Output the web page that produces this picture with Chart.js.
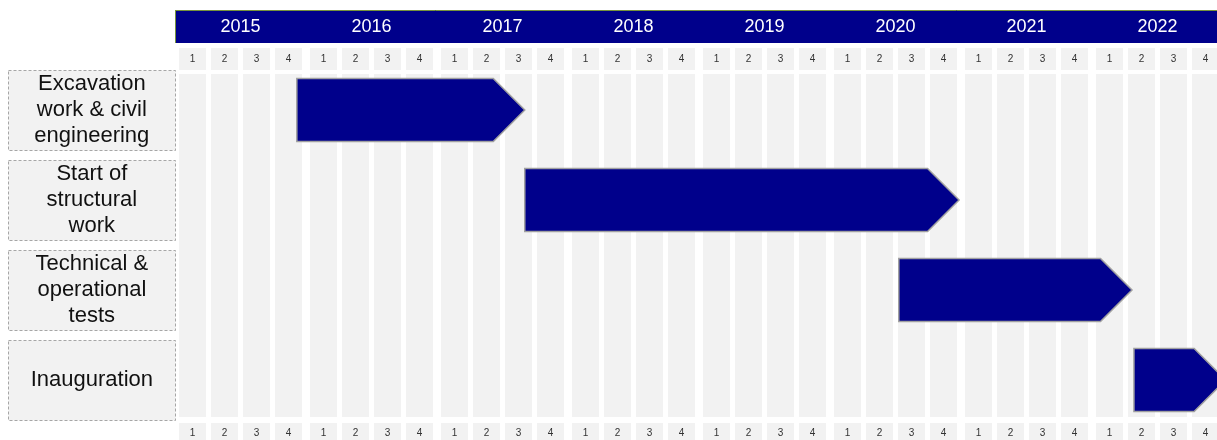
<!DOCTYPE html>
<html><head><meta charset="utf-8">
<script src="https://cdn.jsdelivr.net/npm/chart.js@4/dist/chart.umd.min.js"></script>
<style>html,body{margin:0;padding:0;background:#fff;overflow:hidden}canvas{display:block}</style>
</head><body>
<canvas id="c" width="1217" height="440"></canvas>
<script>
// ---- data ----
const tasks = [
  ['Excavation', 'work & civil', 'engineering'],
  ['Start of', 'structural', 'work'],
  ['Technical &', 'operational', 'tests'],
  ['Inauguration']
];
const taskStart = [2015.93, 2017.67, 2020.525, 2022.32];
const taskEnd   = [2017.67, 2020.985, 2022.305, 2023.02];
const years = [2015, 2016, 2017, 2018, 2019, 2020, 2021, 2022];
const quarterLabels = ['1', '2', '3', '4'];

// ---- layout / style constants ----
const X_MIN = 2015, X_MAX = 2022.954;
const Q_PITCH = 32 / 131;
const FAMILY = '"Liberation Sans", Arial, sans-serif';
const BLUE = '#00008b';
const CELL = '#f2f2f2';

const quarterTicks = years.flatMap(y => quarterLabels.map((_, i) => y + 0.5 + (i - 1.5) * Q_PITCH));
const yearTicks = years.map(y => y + 0.5);

const bg = {
  id: 'bg',
  beforeDraw(chart) {
    const { ctx, chartArea: a, scales } = chart;
    const x = scales.x, y = scales.y;
    ctx.save();
    ctx.fillStyle = '#fff';
    ctx.fillRect(0, 0, chart.width, chart.height);
    // header band
    ctx.fillStyle = BLUE;
    ctx.fillRect(a.left, 10, chart.width - a.left, 33);
    ctx.strokeStyle = '#77933c';
    ctx.lineWidth = 1;
    ctx.beginPath();
    ctx.moveTo(a.left, 10.5); ctx.lineTo(chart.width, 10.5);
    ctx.moveTo(a.left + 0.5, 10); ctx.lineTo(a.left + 0.5, 43);
    ctx.stroke();
    // quarter columns and label cells
    ctx.fillStyle = CELL;
    quarterTicks.forEach(v => {
      const l = Math.round(x.getPixelForValue(v) - 13.5);
      ctx.fillRect(l, a.top + 9, 27, (a.bottom - 8) - (a.top + 9));
      ctx.fillRect(l, 48, 27, 22);
      ctx.fillRect(l, 423, 27, 17);
    });
    // row label boxes
    tasks.forEach((t, i) => {
      const cy = y.getPixelForValue(i);
      const top = Math.round(cy - 40) + 0.5;
      ctx.fillStyle = CELL;
      ctx.fillRect(8.5, top, 167, 80);
      ctx.setLineDash([3, 2]);
      ctx.strokeStyle = '#a6a6a6';
      ctx.lineWidth = 1;
      ctx.strokeRect(8.5, top, 167, 80);
    });
    ctx.restore();
  }
};

const arrows = {
  id: 'arrows',
  afterDatasetsDraw(chart) {
    const { ctx, chartArea: a } = chart;
    const meta = chart.getDatasetMeta(0);
    ctx.save();
    ctx.beginPath();
    ctx.rect(a.left, 0, a.right - a.left, chart.height);
    ctx.clip();
    meta.data.forEach(el => {
      const { x, base, y, height } = el.getProps(['x', 'base', 'y', 'height'], true);
      const h = height / 2;
      const x0 = Math.min(x, base), x1 = Math.max(x, base);
      ctx.beginPath();
      ctx.moveTo(x0, y - h);
      ctx.lineTo(x1 - h, y - h);
      ctx.lineTo(x1, y);
      ctx.lineTo(x1 - h, y + h);
      ctx.lineTo(x0, y + h);
      ctx.closePath();
      ctx.fillStyle = BLUE;
      ctx.fill();
      ctx.strokeStyle = '#a0a0a0';
      ctx.lineWidth = 1.5;
      ctx.stroke();
    });
    ctx.restore();
  }
};

const quarterAxis = (pos, pad, h, weight) => ({
  type: 'linear', position: pos, weight: weight, min: X_MIN, max: X_MAX,
  grid: { display: false, drawTicks: false }, border: { display: false },
  afterBuildTicks: s => { s.ticks = quarterTicks.map(v => ({ value: v })); },
  afterFit: s => { s.height = h; s.paddingLeft = 0; s.paddingRight = 0; },
  ticks: {
    autoSkip: false, maxRotation: 0, minRotation: 0, padding: pad,
    font: { size: 10, family: FAMILY }, color: '#333',
    callback: (v, i) => quarterLabels[i % 4]
  }
});

new Chart(document.getElementById('c'), {
  type: 'bar',
  data: {
    labels: tasks,
    datasets: [{
      data: taskStart.map((s, i) => [s, taskEnd[i]]),
      backgroundColor: 'rgba(0,0,0,0)',
      borderWidth: 0,
      barThickness: 63
    }]
  },
  options: {
    indexAxis: 'y',
    responsive: false,
    animation: false,
    devicePixelRatio: 1,
    layout: { padding: 0 },
    plugins: { legend: { display: false }, tooltip: { enabled: false } },
    scales: {
      x: quarterAxis('bottom', 2, 15, 0),
      xq: quarterAxis('top', 0, 22, 0),
      xy: {
        type: 'linear', position: 'top', weight: 1, min: X_MIN, max: X_MAX,
        grid: { display: false, drawTicks: false }, border: { display: false },
        afterBuildTicks: s => { s.ticks = yearTicks.map(v => ({ value: v })); },
        afterFit: s => { s.height = 43; s.paddingLeft = 0; s.paddingRight = 0; },
        ticks: {
          autoSkip: false, maxRotation: 0, minRotation: 0, padding: 5,
          font: { size: 18, family: FAMILY }, color: '#ffffff',
          callback: (v, i) => String(years[i])
        }
      },
      y: {
        type: 'category', position: 'left',
        grid: { display: false, drawTicks: false }, border: { display: false },
        afterFit: s => { s.width = 175; s.paddingTop = 0; s.paddingBottom = 0; },
        ticks: {
          autoSkip: false, crossAlign: 'center', padding: 22,
          font: { size: 22, family: FAMILY }, color: '#111'
        }
      }
    }
  },
  plugins: [bg, arrows]
});
</script>
</body></html>
